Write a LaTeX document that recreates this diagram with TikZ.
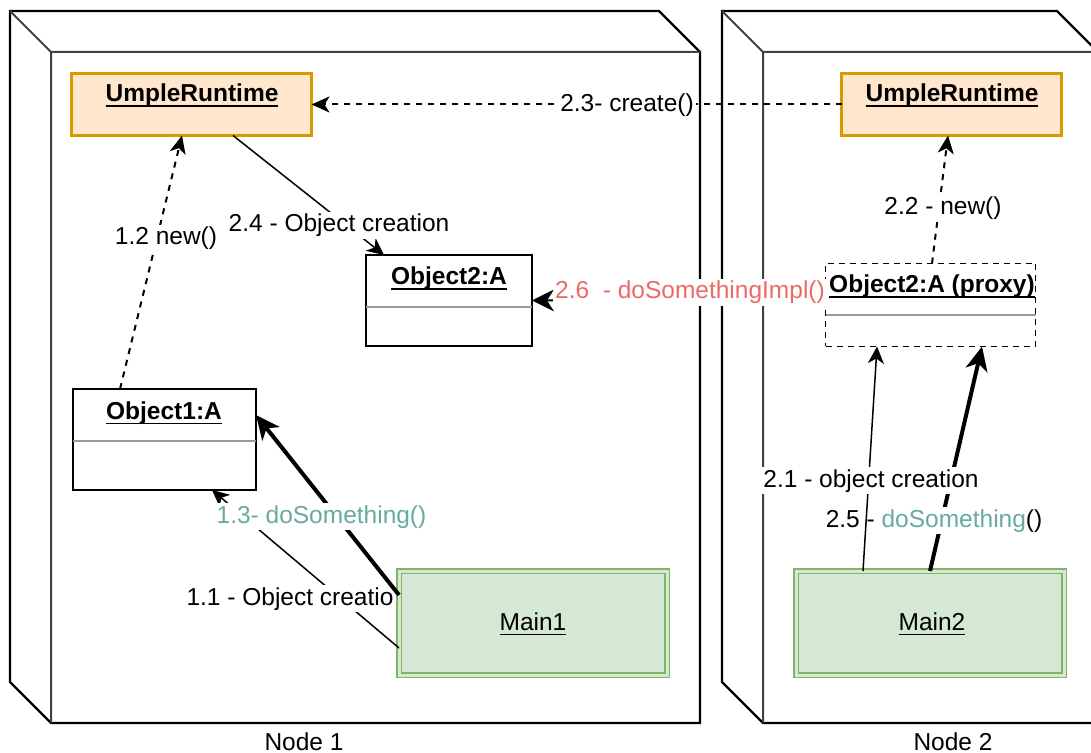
\documentclass[tikz,border=0pt]{standalone}
\usepackage{fontspec}
\setmainfont{Liberation Sans}
\usetikzlibrary{arrows.meta,calc}

\definecolor{urfill}{HTML}{FFE6CC}
\definecolor{urline}{HTML}{D79B00}
\definecolor{mfill}{HTML}{D5E8D4}
\definecolor{mline}{HTML}{82B366}
\definecolor{callred}{HTML}{EA6B66}
\definecolor{callteal}{HTML}{67AB9F}
\definecolor{sepgray}{HTML}{999999}

% underlined object name with a fixed rule position
\newcommand{\undertext}[1]{\setbox0\hbox{#1}\rlap{\rule[-2.4pt]{\wd0}{0.65pt}}\box0}

\begin{document}
\begin{tikzpicture}[x=0.5pt,y=-0.5pt,
  every node/.style={font=\fontsize{12.25}{14}\selectfont, inner sep=0pt, outer sep=0pt},
  cube/.style={draw=black, line width=1.1pt, line join=miter},
  cubeinner/.style={draw=black!75, line width=1pt},
  runtime/.style={draw=urline, fill=urfill, line width=1.5pt},
  objbox/.style={draw=black, fill=white, line width=1pt},
  proxybox/.style={draw=black, fill=white, line width=0.8pt, dash pattern=on 3pt off 2.5pt},
  mainbox/.style={draw=mline, line width=0.75pt, double=mfill, double distance=1.5pt, fill=mfill},
  sepline/.style={draw=sepgray, line width=0.8pt},
  title/.style={font=\fontsize{12.25}{14}\selectfont\bfseries, anchor=base},
  plain/.style={anchor=base},
  lbl/.style={fill=white, inner sep=1pt, anchor=base},
  thincall/.style={line width=0.75pt, -{Stealth[length=8.5pt,width=8pt,inset=2.5pt]}},
  thickcall/.style={line width=2pt, -{Stealth[length=12pt,width=11pt,inset=3.5pt]}},
  bigtipcall/.style={line width=1pt, -{Stealth[length=11pt,width=11pt,inset=3.5pt]}},
  dashcall/.style={line width=1pt, dash pattern=on 3pt off 3pt, -{Stealth[length=9pt,width=8pt,inset=2.5pt]}},
]
\useasboundingbox (0,0) rectangle (1091,753);
\clip (0,0) rectangle (1091,753);

% deployment node 1 (3D box)
\draw[cube] (10,11) -- (659,11) -- (700,52) -- (700,723) -- (51,723) -- (10,682) -- cycle;
\draw[cubeinner] (10,11) -- (51,52) -- (700,52) (51,52) -- (51,723);
% deployment node 2 (3D box)
\draw[cube] (722,11) -- (1057,11) -- (1098,52) -- (1098,723) -- (763,723) -- (722,682) -- cycle;
\draw[cubeinner] (722,11) -- (763,52) -- (1098,52) (763,52) -- (763,723);

% runtimes
\node[runtime, minimum width=120pt, minimum height=31pt] (ur1) at (191.5,104.5) {};
\node[title] (ur1t) at (192,102) {\undertext{UmpleRuntime}};
\node[runtime, minimum width=110pt, minimum height=31pt] (ur2) at (951.5,104.5) {};
\node[title] (ur2t) at (952,102) {\undertext{UmpleRuntime}};

% objects
\node[objbox, minimum width=83pt, minimum height=45.5pt] (o2) at (449,300.5) {};
\draw[sepline] ([yshift=-3.25pt]o2.west) -- ([yshift=-3.25pt]o2.east);
\node[title] (o2t) at (449,285) {\undertext{Object2:A}};

\node[objbox, minimum width=91.5pt, minimum height=50.5pt] (o1) at (164.5,439.5) {};
\draw[sepline] ([yshift=-0.75pt]o1.west) -- ([yshift=-0.75pt]o1.east);
\node[title] (o1t) at (164,419) {\undertext{Object1:A}};

\node[proxybox, minimum width=105pt, minimum height=41.5pt] (px) at (930.5,305) {};
\draw[sepline] ([yshift=-5pt]px.west) -- ([yshift=-5pt]px.east);
\node[title] (pxt) at (932,293) {\undertext{Object2:A (proxy)}};

% main programs
\node[mainbox, minimum width=134pt, minimum height=52pt] (m1) at (533,623) {};
\node[plain] (m1t) at (533,630) {\undertext{Main1}};
\node[mainbox, minimum width=134pt, minimum height=52pt] (m2) at (930,623) {};
\node[plain] (m2t) at (932,630) {\undertext{Main2}};

% node 1 messages
\draw[thincall] ([yshift=-12.5pt]m1.west) -- ([xshift=23.75pt]o1.south);
\node[lbl] (l11) at (290,605) {1.1 - Object creatio};
\draw[thickcall] ([yshift=14pt]m1.west) -- ([yshift=12.25pt]o1.east);
\node[lbl, text=callteal] (l13) at (321.5,523) {1.3- doSomething()};

\draw[dashcall] ([xshift=-22.25pt]o1.north) -- ([xshift=-4.75pt]ur1.south);
\node[lbl] (l12) at (166,245) {1.2 new()};

\draw[thincall] ([xshift=20.75pt]ur1.south) -- ([xshift=-32.5pt]o2.north);
\node[lbl] (l24) at (339,232) {2.4 - Object creation};

% messages between the nodes
\draw[dashcall] (ur2.west) -- (ur1.east);
\node[lbl] (l23) at (627,112) {2.3- create()};

\draw[bigtipcall] ([yshift=2.5pt]px.west) -- (o2.east);
\node[lbl, text=callred] (l26) at (690,299) {2.6\ \ - doSomethingImpl()};

% node 2 messages
\draw[dashcall] ([xshift=0.75pt]px.north) -- ([xshift=-1.75pt]ur2.south);
\node[lbl] (l22) at (943,215) {2.2 - new()};

\draw[thickcall] (m2.north) -- ([xshift=25.75pt]px.south);
\node[lbl] (l25) at (934,527) {2.5 - \textcolor{callteal}{doSomething}()};
\draw[thincall] ([xshift=-33.5pt]m2.north) -- ([xshift=-26.75pt]px.south);
\node[lbl] (l21) at (871,487) {2.1 - object creation};

% node names
\node[plain] (n1) at (304,750) {Node 1};
\node[plain] (n2) at (953,750) {Node 2};
\end{tikzpicture}
\end{document}
